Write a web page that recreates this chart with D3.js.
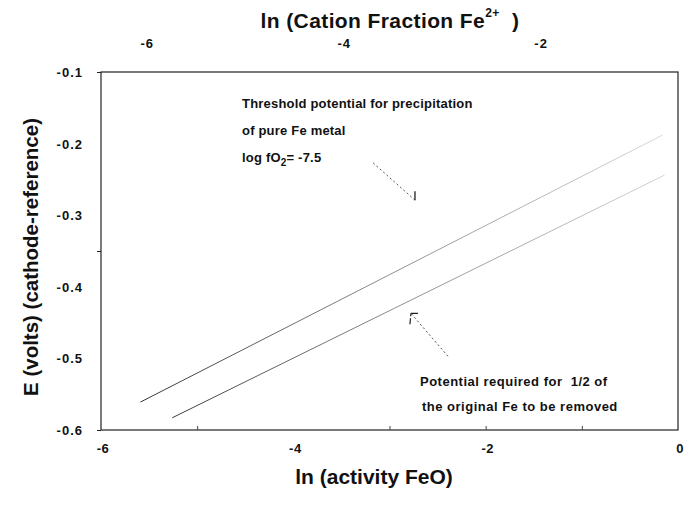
<!DOCTYPE html>
<html><head><meta charset="utf-8">
<script src="https://cdn.jsdelivr.net/npm/d3@7"></script>
<style>
body{margin:0;background:#fff}
svg{display:block}
text{font-family:"Liberation Sans",Arial,sans-serif;font-weight:bold;fill:#111}
</style>
</head><body>
<svg id="chart" width="692" height="515"></svg>
<script>
// ---- data ----
const lnActivityThreshold = [-5.59, -0.16];
const eThreshold = [-0.561, -0.188];
const lnActivityHalf = [-5.26, -0.14];
const eHalf = [-0.583, -0.244];
const bottomTickLabels = [-6, -4, -2, 0];
const bottomTickMarks = [-5, -3, -2, -1];
const topTickLabels = [-6, -4, -2];
const leftTickLabels = [-0.1, -0.2, -0.3, -0.4, -0.5, -0.6];
const leftTickMarks = [-0.1, -0.35, -0.6];
const xDomain = [-6, 0];
const topDomain = [-6.47, -0.61];
const yDomain = [-0.6, -0.1];
const noteThreshold = ["Threshold potential for precipitation", "of pure Fe metal"];
const noteHalf = ["Potential required for \u00a01/2 of", "the original Fe to be removed"];
const arrowThreshold = [[-3.17, -0.227], [-2.735, -0.279]];
const arrowHalf = [[-2.392, -0.497], [-2.777, -0.437]];

const svg = d3.select("#chart");
const L = 101, R = 678, T = 72, B = 430;
const x = d3.scaleLinear().domain(xDomain).range([L, R]);
const xTop = d3.scaleLinear().domain(topDomain).range([L, R]);
const y = d3.scaleLinear().domain(yDomain).range([B, T]);

// frame
svg.append("rect").attr("x", L).attr("y", T).attr("width", R - L).attr("height", B - T)
  .attr("fill", "none").attr("stroke", "#222").attr("stroke-width", 1.2);

// bottom axis
const gB = svg.append("g").attr("transform", `translate(0,${B})`);
gB.call(d3.axisBottom(x).tickValues(bottomTickMarks).tickSize(-4).tickFormat(""));
gB.select(".domain").remove();
gB.selectAll("line").attr("stroke", "#444");
svg.selectAll(".xlab").data(bottomTickLabels).enter().append("text")
  .attr("class", "xlab").attr("x", d => x(d) + 2).attr("y", B + 23)
  .attr("text-anchor", "middle").attr("font-size", 13).attr("letter-spacing", 0.5)
  .text(d => d === 0 ? "0" : "-" + Math.abs(d));

// top axis
svg.selectAll(".tlab").data(topTickLabels).enter().append("text")
  .attr("class", "tlab").attr("x", d => xTop(d)).attr("y", 48)
  .attr("text-anchor", "middle").attr("font-size", 13).attr("letter-spacing", 1)
  .text(d => "-" + Math.abs(d));

// left axis
const gL = svg.append("g").attr("transform", `translate(${L},0)`);
gL.call(d3.axisLeft(y).tickValues(leftTickMarks).tickSize(4).tickFormat(""));
gL.select(".domain").remove();
gL.selectAll("line").attr("stroke", "#222");
svg.selectAll(".ylab").data(leftTickLabels).enter().append("text")
  .attr("class", "ylab").attr("x", 83).attr("y", d => y(d) + 5)
  .attr("text-anchor", "end").attr("font-size", 13).attr("letter-spacing", 1)
  .text(d => "-" + Math.abs(d).toFixed(1));

// titles
const topTitle = svg.append("text").attr("x", 390).attr("y", 28).attr("text-anchor", "middle")
  .attr("font-size", 21).attr("letter-spacing", 0.4);
topTitle.append("tspan").text("ln (Cation Fraction Fe");
topTitle.append("tspan").attr("dy", -11).attr("font-size", 12).text("2+");
topTitle.append("tspan").attr("dy", 11).text("\u00a0\u00a0)");
svg.append("text").attr("x", 374).attr("y", 484).attr("text-anchor", "middle").attr("font-size", 21)
  .text("ln (activity FeO)");
svg.append("text").attr("transform", "translate(38,257) rotate(-90)").attr("text-anchor", "middle")
  .attr("font-size", 20.5).text("E (volts) (cathode-reference)");

// gradient for faded lines
const defs = svg.append("defs");
const grad = defs.append("linearGradient").attr("id", "fade").attr("gradientUnits", "userSpaceOnUse")
  .attr("x1", x(-5.6)).attr("y1", y(-0.58)).attr("x2", x(-0.1)).attr("y2", y(-0.2));
grad.append("stop").attr("offset", "0").attr("stop-color", "#333");
grad.append("stop").attr("offset", "0.45").attr("stop-color", "#8a8a8a");
grad.append("stop").attr("offset", "1").attr("stop-color", "#d8d8d8");

const line = d3.line().x(d => x(d[0])).y(d => y(d[1]));
svg.append("path").datum(d3.zip(lnActivityThreshold, eThreshold)).attr("d", line)
  .attr("fill", "none").attr("stroke", "url(#fade)").attr("stroke-width", 1);
svg.append("path").datum(d3.zip(lnActivityHalf, eHalf)).attr("d", line)
  .attr("fill", "none").attr("stroke", "url(#fade)").attr("stroke-width", 1);

// annotations
noteThreshold.forEach((t, i) => {
  svg.append("text").attr("x", 242).attr("y", 108 + i * 27).attr("font-size", 13).attr("letter-spacing", 0.2).text(t);
});
const lg = svg.append("text").attr("x", 242).attr("y", 162).attr("font-size", 13).attr("letter-spacing", 0.2);
lg.append("tspan").text("log fO");
lg.append("tspan").attr("dy", 4).attr("font-size", 10).text("2");
lg.append("tspan").attr("dy", -4).text("= -7.5");
noteHalf.forEach((t, i) => {
  svg.append("text").attr("x", 420 + i * 2).attr("y", 386 + i * 25).attr("font-size", 13).attr("letter-spacing", 0.5).text(t);
});

// arrows
const arrowStyle = s => s.attr("fill", "none").attr("stroke", "#555").attr("stroke-width", 1).attr("stroke-dasharray", "2,2.5");
arrowStyle(svg.append("path").datum(arrowThreshold).attr("d", line));
const t1 = arrowThreshold[1];
svg.append("line").attr("x1", x(t1[0])).attr("y1", y(t1[1])).attr("x2", x(t1[0])).attr("y2", y(t1[1]) - 9)
  .attr("stroke", "#222").attr("stroke-width", 1.3);
arrowStyle(svg.append("path").datum(arrowHalf).attr("d", line));
const t2 = arrowHalf[1];
svg.append("path").attr("d", `M${x(t2[0]) + 7},${y(t2[1])} L${x(t2[0])},${y(t2[1])} L${x(t2[0]) - 1},${y(t2[1]) + 11}`)
  .attr("fill", "none").attr("stroke", "#222").attr("stroke-width", 1.2).attr("stroke-dasharray", "7,0,3,2");
</script>
</body></html>
